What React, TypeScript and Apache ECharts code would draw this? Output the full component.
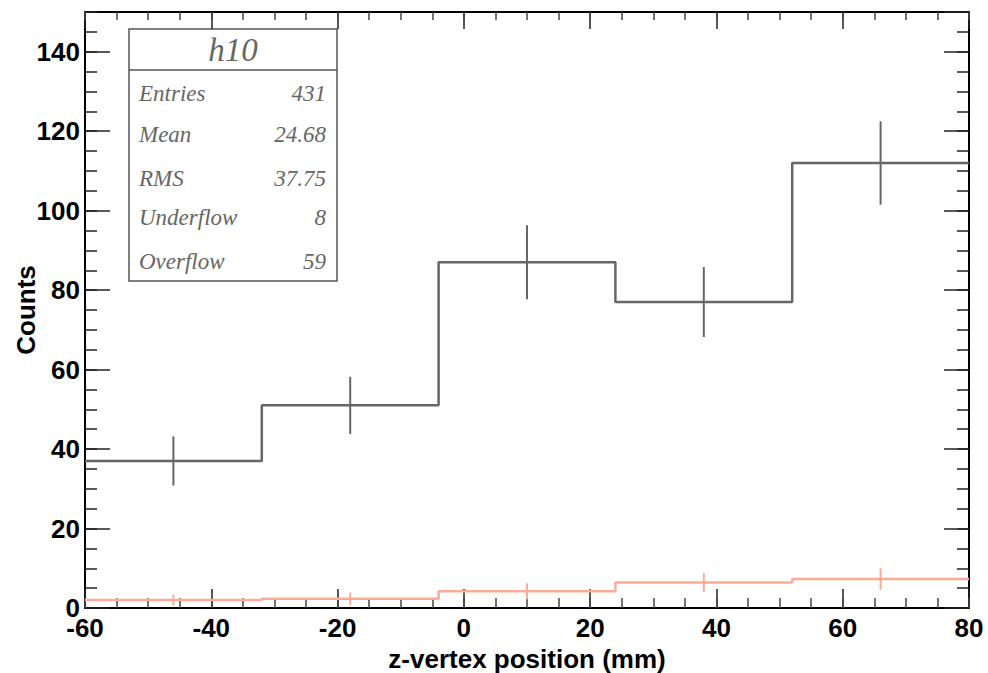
import React, { useEffect, useRef } from 'react';
import * as echarts from 'echarts';

const binEdges = [-60, -32, -4, 24, 52, 80];
const binCenters = [-46, -18, 10, 38, 66];
const mainCounts = [37, 51, 87, 77, 112];
const mainErrors = [6.2, 7.2, 9.3, 8.8, 10.5];
const secondCounts = [2.0, 2.3, 4.2, 6.4, 7.3];
const secondErrors = [1.4, 1.6, 2.0, 2.4, 2.7];

const statsTitle = 'h10';
const statsLabels = ['Entries', 'Mean', 'RMS', 'Underflow', 'Overflow'];
const statsValues = ['431', '24.68', '37.75', '8', '59'];

const xLabel = 'z-vertex position (mm)';
const yLabel = 'Counts';

const MAIN_COLOR = '#666666';
const SECOND_COLOR = '#fdab98';

function stepPoints(vals: number[]) {
  const pts: number[][] = [];
  vals.forEach((v, i) => {
    pts.push([binEdges[i], v]);
    pts.push([binEdges[i + 1], v]);
  });
  return pts;
}

function errorSeries(vals: number[], errs: number[], color: string) {
  return {
    type: 'custom',
    xAxisIndex: 0,
    yAxisIndex: 0,
    z: 3,
    data: binCenters.map((c, i) => [c, vals[i] - errs[i], vals[i] + errs[i]]),
    encode: { x: 0, y: [1, 2] },
    renderItem: (params: any, api: any) => {
      const lo = api.coord([api.value(0), api.value(1)]);
      const hi = api.coord([api.value(0), api.value(2)]);
      return {
        type: 'line',
        shape: { x1: lo[0], y1: lo[1], x2: hi[0], y2: hi[1] },
        style: { stroke: color, lineWidth: 2 },
      };
    },
  };
}

const labelFont = {
  fontFamily: 'Liberation Sans, Arial, sans-serif',
  fontWeight: 'bold' as const,
  fontSize: 26,
  color: '#000',
};

function xAxisDef(position: string, interval: number, tickLen: number, withLabels: boolean, lineShow: boolean) {
  return {
    type: 'value',
    position,
    min: -60,
    max: 80,
    interval,
    axisLine: { show: lineShow, onZero: false, lineStyle: { color: '#000', width: 2 } },
    axisTick: { show: true, inside: true, length: tickLen, lineStyle: { color: tickLen > 12 ? '#222' : '#444', width: 1.5 } },
    axisLabel: withLabels ? { show: true, margin: 7, ...labelFont } : { show: false },
    splitLine: { show: false },
    ...(withLabels
      ? { name: xLabel, nameLocation: 'middle', nameGap: 36, nameTextStyle: { ...labelFont } }
      : {}),
  };
}

function yAxisDef(position: string, interval: number, tickLen: number, withLabels: boolean, lineShow: boolean) {
  return {
    type: 'value',
    position,
    min: 0,
    max: 150,
    interval,
    axisLine: { show: lineShow, onZero: false, lineStyle: { color: '#000', width: 2 } },
    axisTick: { show: true, inside: true, length: tickLen, lineStyle: { color: '#222', width: 1.5 } },
    axisLabel: withLabels ? { show: true, margin: 5, showMaxLabel: false, ...labelFont } : { show: false },
    splitLine: { show: false },
    ...(withLabels
      ? {
          name: yLabel,
          nameLocation: 'middle',
          nameGap: 46,
          nameMoveOverlap: false,
          nameTextStyle: { ...labelFont },
        }
      : {}),
  };
}

export default function App() {
  const ref = useRef<HTMLDivElement>(null);
  useEffect(() => {
    if (!ref.current) return;
    const chart = echarts.init(ref.current, undefined, { renderer: 'svg' });
    const boxX = 129, boxY = 29, boxW = 208, boxH = 252;
    const rowYs = [93, 134, 178, 217, 261];
    const textStyleBase = {
      fontFamily: 'Liberation Serif, Times New Roman, serif',
      fontStyle: 'italic',
      fill: '#666',
    };
    chart.setOption({
      animation: false,
      backgroundColor: '#fff',
      grid: { left: 85, right: 19, top: 12, bottom: 65, containLabel: false, outerBoundsMode: 'none' },
      xAxis: [
        xAxisDef('bottom', 20, 19, true, true),
        xAxisDef('bottom', 5, 10, false, false),
        xAxisDef('top', 20, 17, false, true),
        xAxisDef('top', 5, 8, false, false),
      ],
      yAxis: [
        yAxisDef('left', 20, 25, true, true),
        yAxisDef('left', 5, 12, false, false),
        yAxisDef('right', 20, 25, false, true),
        yAxisDef('right', 5, 12, false, false),
      ],
      series: [
        {
          type: 'line',
          xAxisIndex: 0,
          yAxisIndex: 0,
          data: stepPoints(secondCounts),
          showSymbol: false,
          symbol: 'none',
          lineStyle: { color: SECOND_COLOR, width: 2.5 },
          z: 2,
        },
        errorSeries(secondCounts, secondErrors, SECOND_COLOR),
        {
          type: 'line',
          xAxisIndex: 0,
          yAxisIndex: 0,
          data: stepPoints(mainCounts),
          showSymbol: false,
          symbol: 'none',
          lineStyle: { color: MAIN_COLOR, width: 2.5 },
          z: 2,
        },
        errorSeries(mainCounts, mainErrors, MAIN_COLOR),
      ],
      graphic: [
        {
          type: 'group',
          z: 100,
          children: [
            {
              type: 'rect',
              shape: { x: boxX, y: boxY, width: boxW, height: boxH },
              style: { fill: '#fff', stroke: '#555', lineWidth: 1.5 },
            },
            {
              type: 'line',
              shape: { x1: boxX, y1: 70, x2: boxX + boxW, y2: 70 },
              style: { stroke: '#555', lineWidth: 1.5 },
            },
            {
              type: 'text',
              x: boxX + boxW / 2,
              y: 50,
              style: {
                ...textStyleBase,
                text: statsTitle,
                fontSize: 33,
                align: 'center',
                verticalAlign: 'middle',
              },
            },
            ...statsLabels.map((lab, i) => ({
              type: 'text',
              x: boxX + 10,
              y: rowYs[i],
              style: { ...textStyleBase, text: lab, fontSize: 23, align: 'left', verticalAlign: 'middle' },
            })),
            ...statsValues.map((val, i) => ({
              type: 'text',
              x: boxX + boxW - 11,
              y: rowYs[i],
              style: { ...textStyleBase, text: val, fontSize: 23, align: 'right', verticalAlign: 'middle' },
            })),
          ],
        },
      ],
    });
    return () => chart.dispose();
  }, []);
  return <div ref={ref} style={{ width: 988, height: 673, position: 'absolute', left: 0, top: 0 }} />;
}
